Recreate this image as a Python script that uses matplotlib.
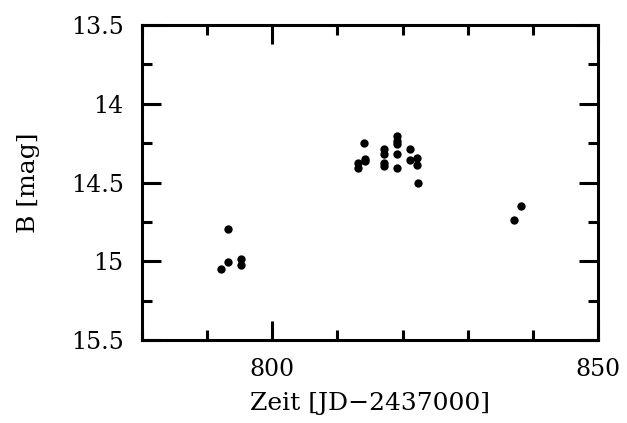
import matplotlib
matplotlib.use("Agg")
import matplotlib.pyplot as plt
from matplotlib.ticker import MultipleLocator

# light curve: time (JD-2437000) and B magnitude
jd = [792.2, 793.2, 793.2, 795.3, 795.3,
      813.2, 813.2, 814.1, 814.2, 814.3,
      817.2, 817.2, 817.2, 817.2,
      819.2, 819.2, 819.2, 819.2, 819.2,
      821.2, 821.2, 822.2, 822.2, 822.3,
      837.1, 838.1]
bmag = [15.047, 15.004, 14.796, 14.983, 15.026,
        14.377, 14.408, 14.249, 14.351, 14.366,
        14.290, 14.319, 14.377, 14.398,
        14.202, 14.238, 14.253, 14.317, 14.405,
        14.290, 14.360, 14.345, 14.387, 14.504,
        14.740, 14.649]

plt.rcParams["font.family"] = ["DejaVu Serif"]

fig = plt.figure(figsize=(6.27, 4.23), dpi=100)
ax = fig.add_axes([0.226, 0.196, 0.728, 0.745])
ax.plot(jd, bmag, "o", color="black", markersize=6, markeredgewidth=0)

ax.set_xlim(780, 850)
ax.set_ylim(15.5, 13.5)
ax.xaxis.set_major_locator(MultipleLocator(50))
ax.xaxis.set_minor_locator(MultipleLocator(10))
ax.yaxis.set_major_locator(MultipleLocator(0.5))
ax.yaxis.set_minor_locator(MultipleLocator(0.25))
ax.yaxis.set_major_formatter(plt.FuncFormatter(lambda v, p: f"{v:g}"))

for s in ax.spines.values():
    s.set_linewidth(2.2)
ax.tick_params(which="both", direction="in", top=True, right=True, width=2.2, labelsize=17)
ax.tick_params(axis="y", which="major", length=14, pad=13)
ax.tick_params(axis="x", which="major", length=14, pad=13)
ax.tick_params(which="minor", length=7)

ax.set_xlabel("Zeit [JD\u22122437000]", fontsize=18, labelpad=8)
ax.set_ylabel("B [mag]", fontsize=18, labelpad=22)

fig.savefig("out.png", dpi=100)
